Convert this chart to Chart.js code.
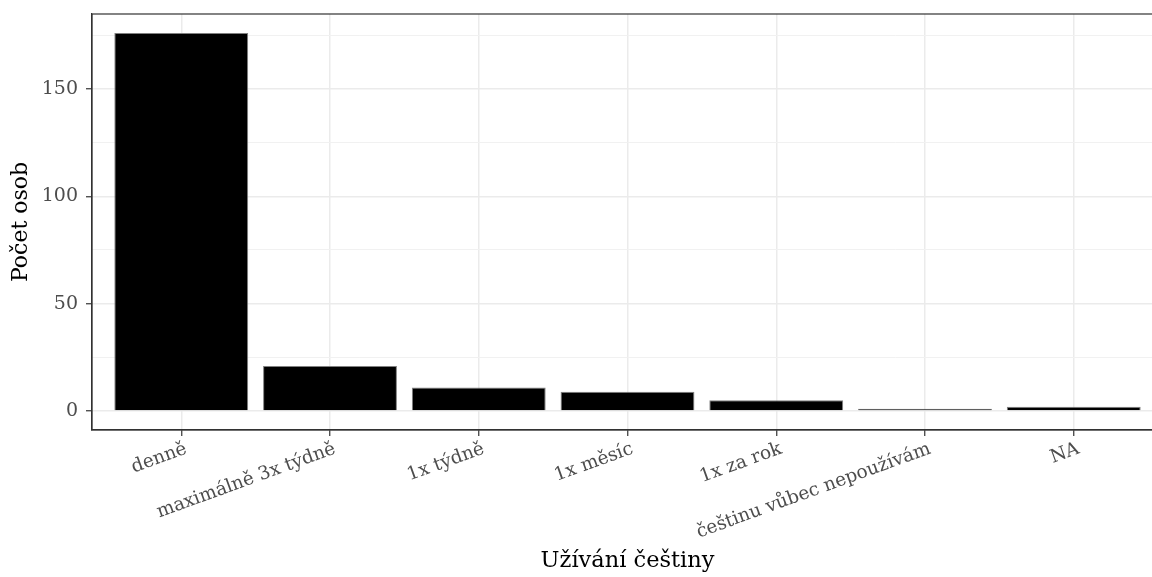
<!DOCTYPE html>
<html>
<head>
<meta charset="utf-8">
<script src="https://cdn.jsdelivr.net/npm/chart.js@4/dist/chart.umd.min.js"></script>
<style>
  html, body { margin: 0; padding: 0; background: #fff; overflow: hidden; }
  #wrap { width: 1176px; height: 577px; position: relative; }
</style>
</head>
<body>
<div id="wrap"><canvas id="c"></canvas></div>
<script>
const categories = ['denně', 'maximálně 3x týdně', '1x týdně', '1x měsíc', '1x za rok', 'češtinu vůbec nepoužívám', 'NA'];
const counts = [176, 21, 11, 9, 5, 1, 2];
const yMajorTicks = [0, 50, 100, 150];
const yMinorTicks = [25, 75, 125, 175];
const xTitle = 'Užívání češtiny';
const yTitle = 'Počet osob';

const FONT = "'DejaVu Serif', serif";

const panelBorder = {
  id: 'panelBorder',
  afterDraw(chart) {
    const { ctx, chartArea: a } = chart;
    ctx.save();
    ctx.strokeStyle = '#333333';
    ctx.lineWidth = 1.2;
    ctx.strokeRect(a.left, a.top, a.right - a.left, a.bottom - a.top);
    ctx.restore();
  }
};

const isMajor = v => yMajorTicks.includes(v);

new Chart(document.getElementById('c'), {
  type: 'bar',
  data: {
    datasets: [{
      data: counts.map((v, i) => ({ x: i, y: v })),
      backgroundColor: '#000000',
      borderColor: '#808080',
      borderWidth: 1,
      barPercentage: 0.9,
      categoryPercentage: 1.0
    }]
  },
  options: {
    responsive: true,
    maintainAspectRatio: false,
    animation: false,
    layout: { padding: { left: 0, top: 14, right: 13, bottom: 0 } },
    plugins: { legend: { display: false }, tooltip: { enabled: false } },
    scales: {
      x: {
        type: 'linear',
        offset: false,
        min: -0.6,
        max: categories.length - 1 + 0.6,
        afterBuildTicks: axis => { axis.ticks = categories.map((c, i) => ({ value: i })); },
        afterFit: axis => { axis.height = 147; axis.paddingLeft = 0; axis.paddingRight = 0; },
        ticks: {
          autoSkip: false,
          maxRotation: 20,
          minRotation: 20,
          padding: 2,
          labelOffset: 5,
          color: '#4d4d4d',
          font: { family: FONT, size: 18.5 },
          callback: v => categories[v]
        },
        grid: {
          offset: false,
          color: '#ebebeb',
          lineWidth: 1.5,
          tickLength: 6,
          tickColor: '#333333',
          tickWidth: 1.2
        },
        border: { display: true, color: '#333333', width: 1.2 },
        title: {
          display: true,
          text: xTitle,
          color: '#000000',
          font: { family: FONT, size: 22.5 },
          padding: { top: 0, bottom: 2 }
        }
      },
      y: {
        type: 'linear',
        min: -8.85,
        max: 184.9,
        afterBuildTicks: axis => {
          axis.ticks = yMajorTicks.concat(yMinorTicks).sort((a, b) => a - b).map(v => ({ value: v }));
        },
        afterFit: axis => { axis.width = 92; axis.paddingTop = 0; axis.paddingBottom = 0; },
        ticks: {
          padding: 8,
          color: '#4d4d4d',
          font: { family: FONT, size: 19 },
          callback: v => (isMajor(v) ? String(v) : '')
        },
        grid: {
          color: ctx => (isMajor(ctx.tick.value) ? '#ebebeb' : '#f1f1f1'),
          lineWidth: ctx => (isMajor(ctx.tick.value) ? 1.5 : 1),
          tickLength: 6,
          tickColor: ctx => (isMajor(ctx.tick.value) ? '#333333' : 'rgba(0,0,0,0)'),
          tickWidth: 1.2
        },
        border: { display: true, color: '#333333', width: 1.2 },
        title: {
          display: true,
          text: yTitle,
          color: '#000000',
          font: { family: FONT, size: 22 },
          padding: { top: 8, bottom: 0 }
        }
      }
    }
  },
  plugins: [panelBorder]
});
</script>
</body>
</html>
